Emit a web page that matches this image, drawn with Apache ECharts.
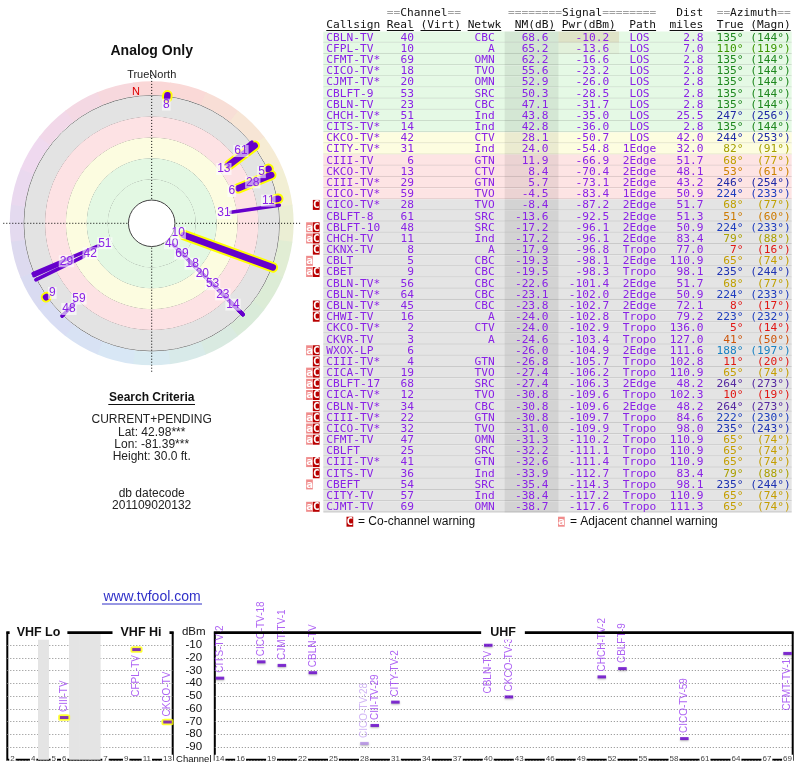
<!DOCTYPE html>
<html><head><meta charset="utf-8"><title>TV Fool</title>
<script src="https://cdn.jsdelivr.net/npm/echarts@6/dist/echarts.min.js"></script>
<style>html,body{margin:0;padding:0;background:#fff}#chart{width:800px;height:768px}</style>
</head><body><div id="chart"></div>
<script>
// ---------------- DATA ----------------
const callsigns = ['CBLN-TV','CFPL-TV','CFMT-TV*','CICO-TV*','CJMT-TV*','CBLFT-9','CBLN-TV','CHCH-TV*','CITS-TV*','CKCO-TV*','CITY-TV*','CIII-TV','CKCO-TV','CIII-TV*','CICO-TV*','CICO-TV*','CBLFT-8','CBLFT-10','CHCH-TV','CKNX-TV','CBLT','CBET','CBLN-TV*','CBLN-TV*','CBLN-TV*','CHWI-TV','CKCO-TV*','CKVR-TV','WXOX-LP','CIII-TV*','CICA-TV','CBLFT-17','CICA-TV*','CBLN-TV*','CIII-TV*','CICO-TV*','CFMT-TV','CBLFT','CIII-TV*','CITS-TV','CBEFT','CITY-TV','CJMT-TV'];
const realCh = [40,10,69,18,20,53,23,51,14,42,31,6,13,29,59,28,61,48,11,8,5,9,56,64,45,16,2,3,6,4,19,68,12,34,22,32,47,25,41,36,54,57,69];
const networks = ['CBC','A','OMN','TVO','OMN','SRC','CBC','Ind','Ind','CTV','Ind','GTN','CTV','GTN','TVO','TVO','SRC','SRC','Ind','A','CBC','CBC','CBC','CBC','CBC','A','CTV','A','','GTN','TVO','SRC','TVO','CBC','GTN','TVO','OMN','SRC','GTN','Ind','SRC','Ind','OMN'];
const nmDb = [68.6,65.2,62.2,55.6,52.9,50.3,47.1,43.8,42.8,28.1,24.0,11.9,8.4,5.7,-4.5,-8.4,-13.6,-17.2,-17.2,-17.9,-19.3,-19.5,-22.6,-23.1,-23.8,-24.0,-24.0,-24.6,-26.0,-26.8,-27.4,-27.4,-30.8,-30.8,-30.8,-31.0,-31.3,-32.2,-32.6,-33.9,-35.4,-38.4,-38.7];
const pwrDbm = [-10.2,-13.6,-16.6,-23.2,-26.0,-28.5,-31.7,-35.0,-36.0,-50.7,-54.8,-66.9,-70.4,-73.1,-83.4,-87.2,-92.5,-96.1,-96.1,-96.8,-98.1,-98.3,-101.4,-102.0,-102.7,-102.8,-102.9,-103.4,-104.9,-105.7,-106.2,-106.3,-109.6,-109.6,-109.7,-109.9,-110.2,-111.1,-111.4,-112.7,-114.3,-117.2,-117.6];
const paths = ['LOS','LOS','LOS','LOS','LOS','LOS','LOS','LOS','LOS','LOS','1Edge','2Edge','2Edge','2Edge','1Edge','2Edge','2Edge','2Edge','2Edge','Tropo','2Edge','Tropo','2Edge','2Edge','2Edge','Tropo','Tropo','Tropo','2Edge','Tropo','Tropo','2Edge','Tropo','2Edge','Tropo','Tropo','Tropo','Tropo','Tropo','Tropo','Tropo','Tropo','Tropo'];
const distMiles = [2.8,7.0,2.8,2.8,2.8,2.8,2.8,25.5,2.8,42.0,32.0,51.7,48.1,43.2,50.9,51.7,51.3,50.9,83.4,77.0,110.9,98.1,51.7,50.9,72.1,79.2,136.0,127.0,111.6,102.8,110.9,48.2,102.3,48.2,84.6,98.0,110.9,110.9,110.9,83.4,98.1,110.9,111.3];
const azTrue = [135,110,135,135,135,135,135,247,135,244,82,68,53,246,224,68,51,224,79,7,65,235,68,224,8,223,5,41,188,11,65,264,10,264,222,235,65,65,65,79,235,65,65];
const azMagn = [144,119,144,144,144,144,144,256,144,253,91,77,61,254,233,77,60,233,88,16,74,244,77,233,17,232,14,50,197,20,74,273,19,273,230,243,74,74,74,88,244,74,74];
const warnings = ['','','','','','','','','','','','','','','','C','','aC','aC','C','a','aC','','','C','C','','','aC','C','aC','aC','aC','C','aC','aC','aC','','aC','C','a','','aC'];
// labels used in the channel (spectrum) chart, for the rows shown there (in table order)
const spectrumLabels = ['CBLN-TV','CFPL-TV','CFMT-TV-1','CICO-TV-18','CJMT-TV-1','CBLFT-9','CBLN-TV','CHCH-TV-2','CITS-TV-2','CKCO-TV-3','CITY-TV-2','CIII-TV','CKCO-TV','CIII-TV-29','CICO-TV-59','CICO-TV-28'];
// channel axes
const vhfCats = ['2','3','4','gapA','5','6','gapB1','gapB2','gapB3','7','8','9','10','11','12','13'];
const vhfTickLabels = ['2','4','5','6','7','9','11','13'];
const uhfCats = []; for (let c = 14; c <= 69; c++) uhfCats.push(String(c));
const uhfTickLabels = ['14','16','19','22','25','28','31','34','37','40','43','46','49','52','55','58','61','64','67','69'];
const dbmTicks = {min: -100, max: 0, step: 10};
// polar rings (NM dB)
const ringStep = 18.75;

// ---------------- STYLE HELPERS ----------------
const PURPLE_TXT = '#8a22e6';
const MARK = '#6600cc';
const SANS = '"Liberation Sans", Arial, sans-serif';
const MONO = '"DejaVu Sans Mono", monospace';
const TFONT = '11.2px ' + MONO;
const CW = 6.73;

const azStops = [[0,[225,20,20]],[12,[225,25,20]],[41,[205,85,10]],[53,[205,130,0]],[66,[195,160,0]],[82,[165,160,0]],[110,[60,150,0]],[135,[30,135,30]],[188,[25,130,195]],[224,[30,60,190]],[247,[30,40,165]],[264,[85,40,160]],[300,[160,30,160]],[360,[225,20,20]]];
function azRgb(a) {
  a = ((a % 360) + 360) % 360;
  for (let k = 0; k < azStops.length - 1; k++) {
    const [a0, c0] = azStops[k], [a1, c1] = azStops[k + 1];
    if (a >= a0 && a <= a1) {
      const t = (a - a0) / (a1 - a0);
      return c0.map((v, j) => Math.round(v + (c1[j] - v) * t));
    }
  }
  return azStops[0][1];
}
const rgbStr = c => 'rgb(' + c.join(',') + ')';
const azText = a => rgbStr(azRgb(a));
const azPastel = (a, f) => rgbStr(azRgb(a).map(v => Math.round(255 - (255 - v) * f)));
function rowBg(nm) { return nm >= 35 ? '#e5f9e5' : nm >= 15 ? '#fdfde0' : nm >= -5 ? '#fde4e4' : '#e4e4e4'; }

function rowMain(i) {
  const p = paths[i].length === 3 ? ' ' + paths[i] + ' ' : paths[i];
  return callsigns[i].padEnd(9) + String(realCh[i]).padStart(4) + networks[i].padStart(12) +
    nmDb[i].toFixed(1).padStart(8) + pwrDbm[i].toFixed(1).padStart(9) + '  ' + p + distMiles[i].toFixed(1).padStart(7);
}
function rowAz(i) { return (azTrue[i] + '°').padStart(6) + ('(' + azMagn[i] + '°)').padStart(7); }

// ---------------- TABLE (custom series on category rows) ----------------
function renderRow(params, api) {
  const i = api.value(1);
  const p = api.coord([0, i]);
  const h = api.size([0, 1])[1];
  const cy = p[1], top = cy - h / 2;
  const gx = params.coordSys.x;
  const X = col => gx + 4.3 + col * CW;
  const kids = [
    {type: 'rect', shape: {x: gx + 1.3, y: top, width: 468.4, height: h}, style: {fill: rowBg(nmDb[i])}},
    {type: 'rect', shape: {x: X(26.5), y: top, width: CW * 8, height: h}, style: {fill: 'rgba(0,0,0,0.07)'}}
  ];
  if (pwrDbm[i] > -15) {
    kids.push({type: 'rect', shape: {x: X(34.5), y: top, width: CW * 9, height: h},
      style: {fill: pwrDbm[i] > -12 ? 'rgba(200,140,80,0.2)' : 'rgba(220,220,190,0.25)'}});
  }
  kids.push({type: 'line', shape: {x1: gx + 1.3, y1: top + h - 0.5, x2: gx + 469.7, y2: top + h - 0.5}, style: {stroke: 'rgba(0,0,0,0.12)', lineWidth: 1}});
  kids.push({type: 'text', x: X(0), y: cy + 0.5, style: {text: rowMain(i), font: TFONT, fill: PURPLE_TXT, align: 'left', verticalAlign: 'middle'}});
  kids.push({type: 'text', x: X(69), y: cy + 0.5, style: {text: rowAz(i), font: TFONT, fill: azText(azTrue[i]), align: 'right', verticalAlign: 'middle'}});
  const w = warnings[i];
  const icon = (col, ch, fill) => {
    kids.push({type: 'rect', shape: {x: X(col), y: cy - 5, width: CW, height: 10}, style: {fill}});
    kids.push({type: 'text', x: X(col) + CW / 2, y: cy + 0.5, style: {text: ch, font: 'bold 11px ' + MONO, fill: '#fff', align: 'center', verticalAlign: 'middle'}});
  };
  if (w.indexOf('C') >= 0) icon(-2, 'C', '#b80000');
  if (w.indexOf('a') >= 0) icon(-3, 'a', '#f08c8c');
  return {type: 'group', children: kids};
}

// ---------------- POLAR helpers ----------------
const polarRows = nmDb.map((_, i) => i).filter(i => nmDb[i] > -20);
const EDGE_NM = -20;
const labelNm = {};
polarRows.slice().sort((a, b) => nmDb[b] - nmDb[a]).forEach(i => {
  let v = Math.min(nmDb[i] + 6.3, 70.5);
  Object.keys(labelNm).forEach(j => {
    if (Math.abs(azTrue[j] - azTrue[i]) <= 1.5 && labelNm[j] - v < 13) v = Math.min(v, labelNm[j] - 13);
  });
  labelNm[i] = v;
});
const isVhf = i => realCh[i] <= 13;

function rAt(api, cs, nm) { const p = api.coord([nm, 0]); return Math.hypot(p[0] - cs.cx, p[1] - cs.cy); }
function renderWheel(params, api) {
  const cs = params.coordSys;
  const rIn = rAt(api, cs, -ringStep) + 0.5, rOut = rAt(api, cs, -31.7);
  const kids = [];
  for (let k = 0; k < 24; k++) {
    const a0 = k * 15 - 7.5, a1 = a0 + 15.3;
    const col = azPastel(k * 15, 0.17);
    kids.push({type: 'sector', shape: {cx: cs.cx, cy: cs.cy, r0: rIn, r: rOut, startAngle: (a0 - 90) * Math.PI / 180, endAngle: (a1 - 90) * Math.PI / 180, clockwise: true}, style: {fill: col}});
  }
  return {type: 'group', children: kids};
}
function renderDisc(params, api) {
  const cs = params.coordSys;
  return {type: 'circle', shape: {cx: cs.cx, cy: cs.cy, r: rAt(api, cs, 4 * ringStep)}, style: {fill: '#fff', stroke: '#444', lineWidth: 1}};
}
function renderStation(width, color) {
  return function (params, api) {
    const i = api.value(2);
    const p0 = api.coord([api.value(0), api.value(1)]);
    const p1 = api.coord([EDGE_NM, api.value(1)]);
    const w = width(i);
    if (!w) return null;
    return {type: 'line', shape: {x1: p0[0], y1: p0[1], x2: p1[0], y2: p1[1]}, style: {stroke: color, lineWidth: w, lineCap: 'round'}};
  };
}
function renderLabel(params, api) {
  const i = api.value(2);
  const p = api.coord([labelNm[i], api.value(1)]);
  return {type: 'text', x: p[0], y: p[1], style: {text: String(realCh[i]), font: '12px ' + SANS, fill: PURPLE_TXT, align: 'center', verticalAlign: 'middle', backgroundColor: 'rgba(255,255,255,0.6)', padding: [0, 1]}};
}
const polarData = polarRows.map(i => [nmDb[i], azTrue[i], i]);

// ---------------- SPECTRUM helpers ----------------
const specIdx = nmDb.map((_, i) => i).filter(i => nmDb[i] > -10);
function specItem(i) {
  const k = specIdx.indexOf(i);
  const up = pwrDbm[i] <= -20;
  const faded = nmDb[i] < -5;
  return {
    name: spectrumLabels[k],
    value: [String(realCh[i]), pwrDbm[i]],
    itemStyle: {color: faded ? '#b48ee6' : MARK},
    label: {position: up ? 'top' : 'bottom', align: up ? 'left' : 'right', color: faded ? '#c6a4f2' : '#9a3cf0'}
  };
}
const vhfItems = specIdx.filter(i => isVhf(i)).map(specItem);
const uhfItems = specIdx.filter(i => !isVhf(i)).map(specItem);
const gapData = vhfCats.map((c, k) => [k, c.indexOf('gap') === 0 ? 1 : 0]).filter(d => d[1]);
function renderGap(params, api) {
  const p = api.coord([api.value(0), dbmTicks.max]);
  const q = api.coord([api.value(0), dbmTicks.min]);
  const bw = api.size([1, 0])[0];
  return {type: 'rect', shape: {x: p[0] - bw / 2 - 0.3, y: p[1], width: bw + 0.6, height: q[1] - p[1]}, style: {fill: '#e4e4e4'}};
}
const specLabel = {show: true, formatter: '{b}', rotate: 90, distance: 4, fontSize: 10, fontFamily: SANS, verticalAlign: 'middle'};

// ---------------- GRAPHIC TEXT ----------------
const g = [];
function T(text, x, y, font, fill, align, extra) {
  g.push(Object.assign({type: 'text', x, y, z: 100, style: Object.assign({text, font, fill: fill || '#222', align: align || 'center', verticalAlign: 'middle'}, extra || {})}));
}
function L(x1, y1, x2, y2, color, w) {
  g.push({type: 'line', z: 100, shape: {x1, y1, x2, y2}, style: {stroke: color || '#000', lineWidth: w || 1}});
}
T('Analog Only', 151.7, 51.5, 'bold 14px ' + SANS, '#111');
T('TrueNorth', 151.7, 74.7, '11px ' + SANS, '#222');
T('N', 136, 91.5, '11px ' + SANS, '#dd0000');
T('Search Criteria', 151.7, 397.5, 'bold 12px ' + SANS, '#111');
L(108.3, 404.5, 195, 404.5, '#111', 1);
T('CURRENT+PENDING', 151.7, 420, '12px ' + SANS);
T('Lat: 42.98***', 151.7, 432.5, '12px ' + SANS);
T('Lon: -81.39***', 151.7, 444.7, '12px ' + SANS);
T('Height: 30.0 ft.', 151.7, 457, '12px ' + SANS);
T('db datecode', 151.7, 494, '12px ' + SANS);
T('201109020132', 151.7, 505.7, '12px ' + SANS);
T('www.tvfool.com', 152, 597.3, '14px ' + SANS, '#3030c8');
L(102, 604, 202, 604, '#3030c8', 1);
// table header
const hx = col => 326.3 + col * CW;
const eqRich = {g: {fill: '#a0a0a0', font: TFONT}};
const eqText = s => s.replace(/(=+)/g, '{g|$1}');
[['==Channel==', 9], ['========Signal========', 27], ['Dist', 52], ['==Azimuth==', 58]].forEach(([s, c]) => {
  g.push({type: 'text', x: hx(c), y: 13.5, z: 100, style: {text: eqText(s), rich: eqRich, font: TFONT, fill: '#111', align: 'left', verticalAlign: 'middle'}});
});
const hdr2 = 'Callsign Real (Virt) Netwk  NM(dB) Pwr(dBm)  Path  miles  True (Magn)';
let m; const re = /\S+/g;
while ((m = re.exec(hdr2)) !== null) {
  T(m[0], hx(m.index), 24.7, TFONT, '#111', 'left');
  L(hx(m.index), 30.5, hx(m.index + m[0].length), 30.5, '#111', 1);
}
// legend
g.push({type: 'rect', z: 100, shape: {x: 346.5, y: 516.7, width: CW, height: 10}, style: {fill: '#b80000'}});
T('C', 346.5 + CW / 2, 522, 'bold 11px ' + MONO, '#fff');
T('= Co-channel warning', 358, 522, '12px ' + SANS, '#111', 'left');
g.push({type: 'rect', z: 100, shape: {x: 558, y: 516.7, width: CW, height: 10}, style: {fill: '#f08c8c'}});
T('a', 558 + CW / 2, 522, 'bold 11px ' + MONO, '#fff');
T('= Adjacent channel warning', 570, 522, '12px ' + SANS, '#111', 'left');
// spectrum panel titles (break the frame)
T('VHF Lo', 38.5, 632.3, 'bold 12.5px ' + SANS, '#111', 'center', {backgroundColor: '#fff', padding: [1, 7]});
T('VHF Hi', 141, 632.3, 'bold 12.5px ' + SANS, '#111', 'center', {backgroundColor: '#fff', padding: [1, 8]});
T('UHF', 503, 632.3, 'bold 12.5px ' + SANS, '#111', 'center', {backgroundColor: '#fff', padding: [1, 9]});

// ---------------- OPTION ----------------
const gridTop = 632.25, gridH = 127.5;
const dotted = {show: true, lineStyle: {color: '#888', type: [1, 2], width: 1}};
const frame = {show: true, borderColor: '#000', borderWidth: 2, backgroundColor: 'transparent'};
const chLabel = {fontSize: 8, color: '#444', margin: -5, backgroundColor: '#fff', padding: [0, 1], fontFamily: SANS};

const option = {
  animation: false,
  backgroundColor: '#fff',
  grid: [
    Object.assign({left: 7.3, top: gridTop, width: 165.4, height: gridH}, frame),
    Object.assign({left: 214.8, top: gridTop, width: 577.9, height: gridH}, frame),
    {left: 322, top: 31.6, width: 470, height: 480.8, show: false}
  ],
  xAxis: [
    {type: 'category', gridIndex: 0, data: vhfCats, z: 5, axisTick: {show: false}, axisLine: {lineStyle: {color: '#000', width: 2}},
      axisLabel: Object.assign({interval: (idx, v) => vhfTickLabels.indexOf(v) >= 0}, chLabel)},
    {type: 'category', gridIndex: 1, data: uhfCats, z: 5, axisTick: {show: false}, axisLine: {lineStyle: {color: '#000', width: 2}},
      axisLabel: Object.assign({interval: (idx, v) => uhfTickLabels.indexOf(v) >= 0}, chLabel)},
    {type: 'value', gridIndex: 2, min: 0, max: 470, show: false}
  ],
  yAxis: [
    {type: 'value', gridIndex: 0, min: dbmTicks.min, max: dbmTicks.max, interval: dbmTicks.step, axisLine: {show: false}, axisTick: {show: false}, axisLabel: {show: false}, splitLine: dotted},
    {type: 'value', gridIndex: 1, min: dbmTicks.min, max: dbmTicks.max, interval: dbmTicks.step, axisLine: {show: false}, axisTick: {show: false}, splitLine: dotted,
      axisLabel: {show: true, margin: 21, align: 'center', color: '#111', fontSize: 11.5, fontFamily: SANS, showMinLabel: true, showMaxLabel: true,
        formatter: v => v === dbmTicks.max ? 'dBm' : v === dbmTicks.min ? '{c|Channel}' : String(v),
        rich: {c: {fontSize: 9.5, color: '#111', fontFamily: SANS, backgroundColor: '#fff'}}}},
    {type: 'category', gridIndex: 2, data: callsigns.map((_, i) => String(i)), inverse: true, show: false}
  ],
  polar: {center: [151.7, 223.3], radius: [0, 148.4]},
  angleAxis: {type: 'value', min: 0, max: 360, startAngle: 90, clockwise: true, interval: 90, z: 1,
    axisLine: {show: false}, axisTick: {show: false}, axisLabel: {show: false},
    splitLine: {show: true, lineStyle: {color: '#000', type: [1, 2], width: 1}}},
  radiusAxis: {type: 'value', inverse: true, min: -2 * ringStep, max: 95.9, interval: ringStep,
    axisLine: {show: false}, axisTick: {show: false}, axisLabel: {show: false},
    splitLine: {show: true, lineStyle: {width: 1, color: ['rgba(0,0,0,0)', '#555', '#555', '#555', '#555', '#555', '#555', 'rgba(0,0,0,0)', 'rgba(0,0,0,0)']}},
    splitArea: {show: true, areaStyle: {color: ['rgba(0,0,0,0)', '#e3e3e3', '#fde2e4', '#fcfce0', '#e3f8e3', '#e3f8e3', '#ffffff', '#ffffff']}}},
  graphic: {elements: g},
  series: [
    {type: 'custom', xAxisIndex: 2, yAxisIndex: 2, renderItem: renderRow, data: callsigns.map((_, i) => [0, i]), encode: {x: 0, y: 1}, silent: true, z: 2},
    {type: 'custom', coordinateSystem: 'polar', renderItem: renderWheel, data: [[0, 0]], silent: true, z: -1},
    {type: 'custom', coordinateSystem: 'polar', renderItem: renderDisc, data: [[0, 0]], silent: true, z: 2},
    {type: 'custom', coordinateSystem: 'polar', renderItem: renderStation(i => isVhf(i) ? 10.5 : 0, '#ffff00'), data: polarData, silent: true, z: 3},
    {type: 'custom', coordinateSystem: 'polar', renderItem: renderStation(i => isVhf(i) ? 6.5 : 3.5, MARK), data: polarData, silent: true, z: 4},
    {type: 'custom', coordinateSystem: 'polar', renderItem: renderLabel, data: polarData, silent: true, z: 5},
    {type: 'custom', xAxisIndex: 0, yAxisIndex: 0, renderItem: renderGap, data: gapData, encode: {x: 0, y: 1}, silent: true, z: 1},
    {type: 'scatter', xAxisIndex: 0, yAxisIndex: 0, data: vhfItems.map(d => ({value: d.value})), symbol: 'roundRect', symbolSize: [12, 6.5], itemStyle: {color: '#ffff00'}, silent: true, z: 3},
    {type: 'scatter', xAxisIndex: 0, yAxisIndex: 0, data: vhfItems, symbol: 'rect', symbolSize: [8.5, 3], label: specLabel, silent: true, z: 4},
    {type: 'scatter', xAxisIndex: 1, yAxisIndex: 1, data: uhfItems, symbol: 'rect', symbolSize: [8.5, 3], label: specLabel, silent: true, z: 4,
      itemStyle: {shadowColor: 'rgba(0,0,0,0.35)', shadowBlur: 2, shadowOffsetY: 1}}
  ]
};
const chart = echarts.init(document.getElementById('chart'));
chart.setOption(option);
</script></body></html>
